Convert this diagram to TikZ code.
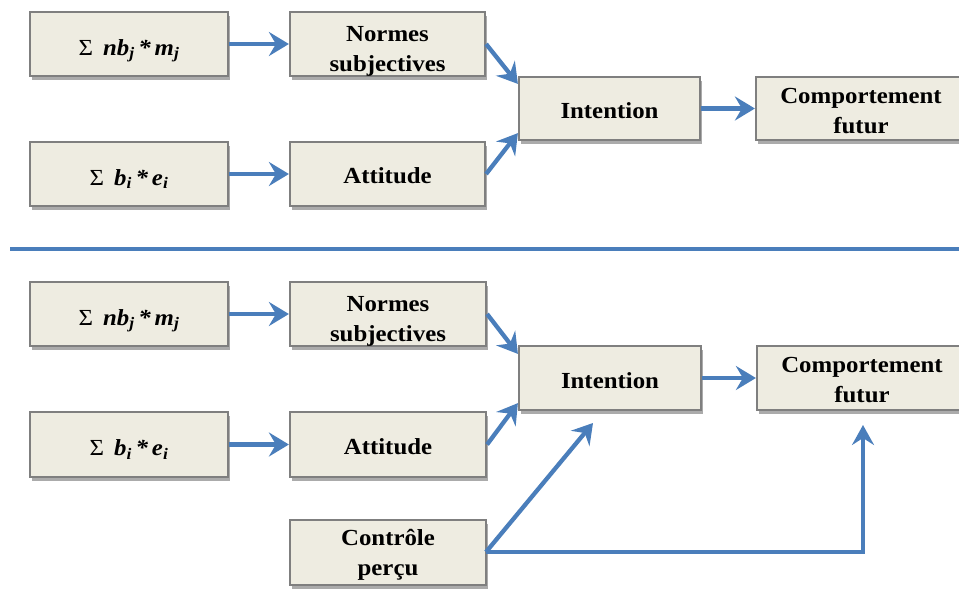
\documentclass[tikz,border=0pt]{standalone}
\usepackage{fontspec}
\setmainfont{Liberation Serif}[FakeStretch=1.08]
\usetikzlibrary{arrows.meta,shadows}
\definecolor{boxfill}{HTML}{EEECE1}
\definecolor{boxdraw}{HTML}{7F7F7F}
\definecolor{arr}{HTML}{4A7EBB}
\tikzset{
  box/.style={draw=boxdraw, line width=2.2pt, fill=boxfill, inner sep=0pt,
    align=center, font=\fontsize{23}{30}\selectfont\bfseries, text depth=0pt,
    drop shadow={shadow xshift=2pt, shadow yshift=-4pt, fill=black!55, opacity=0.6}},
  lowby/.style={text height=#1},
  link/.style={draw=arr, line width=4.3pt, -{Stealth[length=20pt,width=24pt,inset=7pt]}},
  thinlink/.style={draw=arr, line width=3.4pt, -{Stealth[length=20pt,width=22pt,inset=7pt]}},
}
\newcommand{\sumnb}{{\mdseries Σ}\ \,{\itshape nb\textsubscript{j}\,*\,m\textsubscript{j}}}
\newcommand{\sumbe}{{\mdseries Σ}\ \,{\itshape b\textsubscript{i}\,*\,e\textsubscript{i}}}
\begin{document}
\begin{tikzpicture}[x=1pt,y=-1pt]
\useasboundingbox (0,0) rectangle (959,590);
% top section
\node[box, lowby=22pt, minimum width=198pt, minimum height=64pt] (a1) at (129,44) {\sumnb};
\node[box, lowby=54pt, minimum width=195pt, minimum height=64pt] (n1) at (387.5,44) {Normes\\subjectives};
\node[box, lowby=22pt, minimum width=198pt, minimum height=64pt] (b1) at (129,174) {\sumbe};
\node[box, lowby=19pt, minimum width=195pt, minimum height=64pt] (t1) at (387.5,174) {Attitude};
\node[box, lowby=20pt, minimum width=181pt, minimum height=63pt] (i1) at (609.5,108.5) {Intention};
\node[box, lowby=49pt, minimum width=210pt, minimum height=63pt] (c1) at (861,108.5) {Comportement\\futur};
\draw[link] (a1.east) -- (n1.west);
\draw[link] (b1.east) -- (t1.west);
\draw[link] (n1.east) -- ([yshift=-8pt]i1.north west);
\draw[link] (t1.east) -- ([yshift=8pt]i1.south west);
\draw[link] (i1.east) -- (c1.west);
% separator
\coordinate (s1) at (10,249);
\coordinate (s2) at (965,249);
\draw[draw=arr, line width=4pt] (s1) -- (s2);
% bottom section
\node[box, lowby=22pt, minimum width=198pt, minimum height=64pt] (a2) at (129,314) {\sumnb};
\node[box, lowby=54pt, minimum width=196pt, minimum height=64pt] (n2) at (388,314) {Normes\\subjectives};
\node[box, lowby=22pt, minimum width=198pt, minimum height=65pt] (b2) at (129,444.5) {\sumbe};
\node[box, lowby=19pt, minimum width=196pt, minimum height=65pt] (t2) at (388,444.5) {Attitude};
\node[box, lowby=20pt, minimum width=182pt, minimum height=64pt] (i2) at (610,378) {Intention};
\node[box, lowby=49pt, minimum width=210pt, minimum height=64pt] (c2) at (862,378) {Comportement\\futur};
\node[box, lowby=45pt, minimum width=196pt, minimum height=65pt] (k2) at (388,552.5) {Contrôle\\perçu};
\draw[link] (a2.east) -- (n2.west);
\draw[link] (b2.east) -- (t2.west);
\draw[link] (n2.east) -- ([yshift=-9pt]i2.north west);
\draw[link] (t2.east) -- ([yshift=8pt]i2.south west);
\draw[link] (i2.east) -- (c2.west);
\coordinate (k2o) at (486,552);
\coordinate (ti) at (593,423);
\coordinate (tc) at (863,425);
\coordinate (corner) at (863,552);
\draw[link] (k2o) -- (ti);
\draw[thinlink] (k2o) -- (corner) -- (tc);
\end{tikzpicture}
\end{document}
